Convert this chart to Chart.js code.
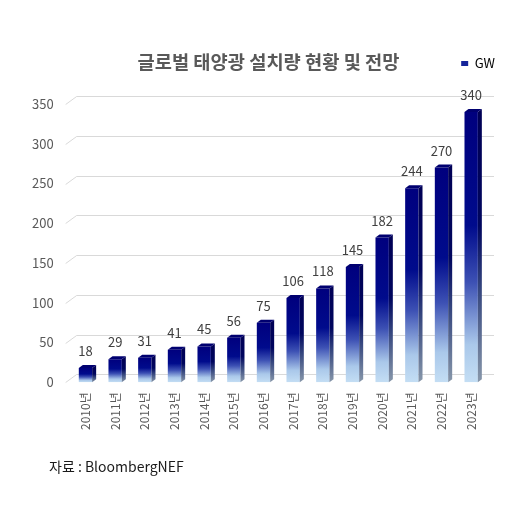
<!DOCTYPE html>
<html><head><meta charset="utf-8">
<script src="https://cdn.jsdelivr.net/npm/chart.js@4.4.1/dist/chart.umd.min.js"></script>
<style>
html,body{margin:0;padding:0;background:#fff;}
#wrap{position:relative;width:520px;height:511px;}
#title{position:absolute;left:0;top:49px;width:537px;text-align:center;font:bold 18.7px "Noto Sans CJK KR","Noto Sans",sans-serif;color:#595959;line-height:24px;}
#source{position:absolute;left:49px;top:456px;font:14px "Noto Sans CJK KR","Noto Sans",sans-serif;color:#1a1a1a;line-height:20px;}
canvas{position:absolute;left:0;top:0;}
</style></head>
<body>
<div id="wrap">
<canvas id="c" width="520" height="511"></canvas>
<div id="title">글로벌 태양광 설치량 현황 및 전망</div>
<div id="source">자료 : BloombergNEF</div>
</div>
<script>
const categories = ['2010년','2011년','2012년','2013년','2014년','2015년','2016년','2017년','2018년','2019년','2020년','2021년','2022년','2023년'];
const gwValues = [18,29,31,41,45,56,75,106,118,145,182,244,270,340];
const yTicks = [0,50,100,150,200,250,300,350];
const seriesName = 'GW';

const FONT = '"Noto Sans CJK KR","Noto Sans",sans-serif';

function frontGradient(context){
  const chart = context.chart;
  if(!chart.chartArea) return '#00008b';
  const ys = chart.scales.y;
  const v = context.raw;
  const top = ys.getPixelForValue(v), bot = ys.getPixelForValue(0);
  const g = chart.ctx.createLinearGradient(0, top, 0, bot);
  g.addColorStop(0, '#00007e');
  g.addColorStop(0.42, '#000b8c');
  g.addColorStop(0.63, '#3d51b4');
  g.addColorStop(0.86, '#aac8ea');
  g.addColorStop(1, '#c4def4');
  return g;
}

const legendSpace = {
  id:'legendSpace',
  beforeInit(chart){
    const fit = chart.legend.fit;
    chart.legend.fit = function(){ fit.call(this); this.height += 32; };
  },
  afterLayout(chart){
    const lg = chart.legend;
    lg.left += 13; lg.right += 13; lg.top += 8; lg.bottom += 8;
  }
};

const grid3d = {
  id:'grid3d',
  beforeDatasetsDraw(chart){
    const {ctx, chartArea} = chart;
    const ys = chart.scales.y;
    ctx.save();
    ctx.strokeStyle = '#d9d9d9';
    ctx.lineWidth = 1;
    yTicks.forEach(t=>{
      const y = Math.round(ys.getPixelForValue(t)) + 0.5;
      ctx.beginPath();
      ctx.moveTo(chartArea.left - 5, y);
      ctx.lineTo(chartArea.left + 6, y - 8);
      ctx.lineTo(chartArea.right + 8, y - 8);
      ctx.stroke();
    });
    ctx.restore();
  }
};

const bar3d = {
  id:'bar3d',
  afterDatasetsDraw(chart){
    const {ctx} = chart;
    const meta = chart.getDatasetMeta(0);
    const dx = 4, dy = 3;
    ctx.save();
    meta.data.forEach((el, i)=>{
      const {x, y, base, width} = el.getProps(['x','y','base','width'], true);
      const l = x - width/2, r = x + width/2;
      const g = ctx.createLinearGradient(0, y, 0, base);
      g.addColorStop(0, '#000055');
      g.addColorStop(0.42, '#00065e');
      g.addColorStop(0.66, '#36477f');
      g.addColorStop(1, '#8797aa');
      ctx.fillStyle = g;
      ctx.beginPath();
      ctx.moveTo(r, y);
      ctx.lineTo(r + dx, y - dy);
      ctx.lineTo(r + dx, base - dy);
      ctx.lineTo(r, base);
      ctx.closePath();
      ctx.fill();
      ctx.fillStyle = '#000070';
      ctx.beginPath();
      ctx.moveTo(l, y);
      ctx.lineTo(l + dx, y - dy);
      ctx.lineTo(r + dx, y - dy);
      ctx.lineTo(r, y);
      ctx.closePath();
      ctx.fill();
      ctx.fillStyle = '#404040';
      ctx.font = '13px ' + FONT;
      ctx.textAlign = 'center';
      ctx.textBaseline = 'middle';
      ctx.fillText(String(gwValues[i]), x, y - dy - 14);
    });
    ctx.restore();
  }
};

new Chart(document.getElementById('c'), {
  type:'bar',
  data:{
    labels: categories,
    datasets:[{
      label: seriesName,
      data: gwValues,
      backgroundColor: frontGradient,
      borderWidth: 0,
      barPercentage: 0.9,
      categoryPercentage: 0.5
    }]
  },
  options:{
    responsive:false,
    animation:false,
    devicePixelRatio:1,
    layout:{padding:{top:45,left:15,right:34,bottom:71}},
    plugins:{
      legend:{
        position:'top',
        align:'end',
        labels:{
          boxWidth:7, boxHeight:5, padding:4,
          font:{size:13, family:FONT},
          color:'#595959',
          generateLabels(){ return [{text:seriesName, fillStyle:'#15249a', strokeStyle:'#15249a', lineWidth:0, datasetIndex:0}]; }
        }
      },
      tooltip:{enabled:false},
      title:{display:false}
    },
    scales:{
      x:{
        grid:{display:false, drawTicks:false},
        border:{display:false},
        ticks:{
          maxRotation:90, minRotation:90, padding:10,
          font:{size:12, family:FONT}, color:'#595959'
        }
      },
      y:{
        min:0, max:350,
        grid:{display:false, drawTicks:false},
        border:{display:false},
        afterBuildTicks(axis){ axis.ticks = yTicks.map(v=>({value:v})); },
        ticks:{
          padding:17,
          font:{size:13, family:FONT}, color:'#595959'
        }
      }
    }
  },
  plugins:[legendSpace, grid3d, bar3d]
});
</script>
</body></html>
